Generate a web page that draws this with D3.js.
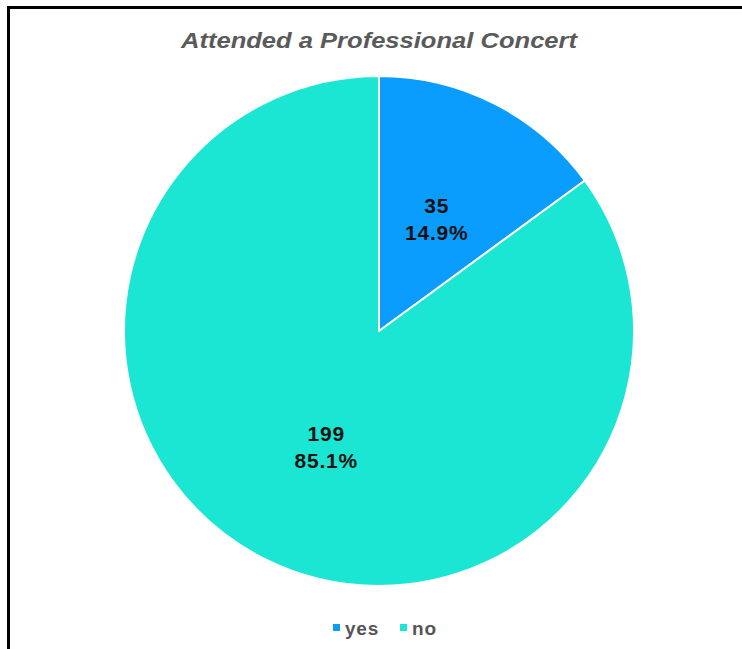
<!DOCTYPE html>
<html>
<head>
<meta charset="utf-8">
<script src="https://cdn.jsdelivr.net/npm/d3@7"></script>
<style>
  html, body { margin: 0; padding: 0; background: #fff; }
  svg { display: block; font-family: "Liberation Sans", Arial, sans-serif; }
</style>
</head>
<body>
<svg id="chart" width="742" height="649"></svg>
<script>
// Survey responses
const categories = ["yes", "no"];
const counts = [35, 199];
const percentLabels = ["14.9%", "85.1%"];
const sliceColors = ["#0a9dfd", "#1be6d3"];
const chartTitle = "Attended a Professional Concert";

const svg = d3.select("#chart");
const W = 742, H = 649;
const cx = 379, cy = 331, R = 255;

// Frame lines (left and top)
svg.append("line").attr("x1", 8.5).attr("y1", 7).attr("x2", 8.5).attr("y2", H)
  .attr("stroke", "#000").attr("stroke-width", 3);
svg.append("line").attr("x1", 7).attr("y1", 7.5).attr("x2", W).attr("y2", 7.5)
  .attr("stroke", "#000").attr("stroke-width", 3);

// Title
svg.append("text")
  .attr("x", cx).attr("y", 48)
  .attr("text-anchor", "middle")
  .attr("font-size", 22)
  .attr("font-weight", "bold")
  .attr("font-style", "italic")
  .attr("fill", "#5a5a5a")
  .attr("textLength", 396)
  .attr("lengthAdjust", "spacingAndGlyphs")
  .text(chartTitle);

const data = categories.map((c, i) => ({ cat: c, value: counts[i], pct: percentLabels[i] }));
const color = d3.scaleOrdinal().domain(categories).range(sliceColors);

const pie = d3.pie().sort(null).value(d => d.value);
const arcs = pie(data);
const arc = d3.arc().innerRadius(0).outerRadius(R);
const labelArc = d3.arc().innerRadius(R * 0.5).outerRadius(R * 0.5);

const g = svg.append("g").attr("transform", `translate(${cx},${cy})`);

g.selectAll("path.slice")
  .data(arcs)
  .join("path")
  .attr("class", "slice")
  .attr("d", arc)
  .attr("fill", d => color(d.data.cat))
  .attr("stroke", "#fff")
  .attr("stroke-width", 2)
  .attr("stroke-linejoin", "round");

const labels = g.selectAll("text.lbl")
  .data(arcs)
  .join("text")
  .attr("class", "lbl")
  .attr("transform", d => {
    const [x, y] = labelArc.centroid(d);
    return `translate(${x + (x < 0 ? 5 : 0)},${y})`;
  })
  .attr("text-anchor", "middle")
  .attr("font-size", 21)
  .attr("font-weight", "bold")
  .attr("letter-spacing", 0.8)
  .attr("fill", "#111");
labels.append("tspan").attr("x", 0).attr("dy", -4).text(d => d.data.value);
labels.append("tspan").attr("x", 0).attr("dy", 27).text(d => d.data.pct);

// Legend
const legend = svg.append("g").attr("transform", "translate(0,628)");
const legendX = [333, 400];
categories.forEach((c, i) => {
  const it = legend.append("g").attr("transform", `translate(${legendX[i]},0)`);
  it.append("rect").attr("x", 0).attr("y", -4).attr("width", 7).attr("height", 7)
    .attr("fill", color(c));
  it.append("text").attr("x", 12).attr("y", 0).attr("dy", "0.35em")
    .attr("font-size", 19).attr("font-weight", "bold").attr("fill", "#555")
    .attr("letter-spacing", 0.8)
    .text(c);
});
</script>
</body>
</html>
